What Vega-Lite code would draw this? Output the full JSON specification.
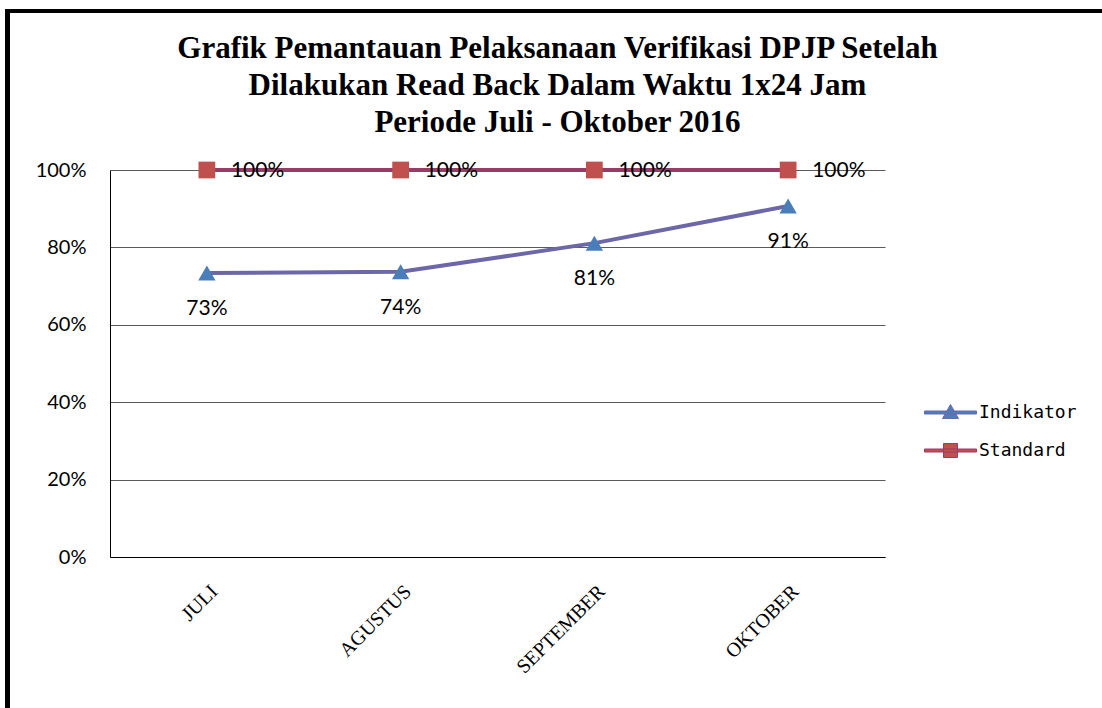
{
  "$schema": "https://vega.github.io/schema/vega-lite/v6.json",
  "width": 775,
  "height": 387,
  "autosize": "none",
  "padding": {"left": 110, "top": 170, "right": 217, "bottom": 151},
  "background": "white",
  "config": {"view": {"stroke": null}, "font": "Lato"},
  "title": {
    "text": ["Grafik Pemantauan Pelaksanaan Verifikasi DPJP Setelah", "Dilakukan Read Back Dalam Waktu 1x24 Jam", "Periode Juli - Oktober 2016"],
    "anchor": "middle",
    "frame": "group",
    "dx": 60,
    "offset": -130,
    "font": "Liberation Serif",
    "fontWeight": "bold",
    "fontSize": 31,
    "lineHeight": 37,
    "color": "black"
  },
  "data": {
    "values": [
      {"bulan": "JULI", "series": "Indikator", "nilai": 0.734},
      {"bulan": "AGUSTUS", "series": "Indikator", "nilai": 0.737},
      {"bulan": "SEPTEMBER", "series": "Indikator", "nilai": 0.811},
      {"bulan": "OKTOBER", "series": "Indikator", "nilai": 0.907},
      {"bulan": "JULI", "series": "Standard", "nilai": 1.0},
      {"bulan": "AGUSTUS", "series": "Standard", "nilai": 1.0},
      {"bulan": "SEPTEMBER", "series": "Standard", "nilai": 1.0},
      {"bulan": "OKTOBER", "series": "Standard", "nilai": 1.0}
    ]
  },
  "resolve": {"scale": {"x": "independent"}},
  "layer": [
    {
      "encoding": {
        "x": {
          "field": "bulan", "type": "nominal",
          "sort": ["JULI", "AGUSTUS", "SEPTEMBER", "OKTOBER"],
          "scale": {"type": "point", "padding": 0.5},
          "axis": {
            "title": null, "labelAngle": -45, "labelFont": "Liberation Serif", "labelFontSize": 20,
            "labelColor": "black", "ticks": false, "labelPadding": 24, "domainColor": "black", "domainWidth": 1, "grid": false
          }
        },
        "y": {
          "field": "nilai", "type": "quantitative",
          "scale": {"domain": [0, 1]},
          "axis": {
            "title": null, "format": ".0%", "values": [0, 0.2, 0.4, 0.6, 0.8, 1.0],
            "labelFont": "Lato", "labelFontSize": 20, "labelColor": "black", "labelPadding": 24,
            "ticks": false, "domainColor": "black", "domainWidth": 1,
            "grid": true, "gridColor": "#5a5a5a", "gridWidth": 1
          }
        }
      },
      "layer": [
        {
          "mark": {"type": "line", "strokeWidth": 4},
          "encoding": {
            "color": {
              "field": "series", "type": "nominal",
              "scale": {"domain": ["Indikator", "Standard"], "range": ["#6C67A8", "#9A3B66"]},
              "legend": {
                "title": null, "orient": "none", "legendX": 830, "legendY": 232, "padding": 0,
                "symbolSize": 400, "rowPadding": 18, "labelOffset": 18,
                "labelFont": "DejaVu Sans Mono", "labelFontSize": 18, "labelColor": "black",
                "encode": {
                  "symbols": {
                    "update": {
                      "shape": {"signal": "datum.value === 'Indikator' ? 'M -2.6 -0.15 L 2.6 -0.15 L 2.6 0.15 L -2.6 0.15 Z M 0 -0.8 L 0.8 0.6 L -0.8 0.6 Z' : 'M -2.6 -0.15 L 2.6 -0.15 L 2.6 0.15 L -2.6 0.15 Z M -0.7 -0.7 L 0.7 -0.7 L 0.7 0.7 L -0.7 0.7 Z'"},
                      "fill": {"signal": "datum.value === 'Indikator' ? '#4A7EBB' : '#C0504D'"},
                      "stroke": {"signal": "datum.value === 'Indikator' ? '#6C67A8' : '#9A3B66'"},
                      "strokeWidth": {"value": 1},
                      "opacity": {"value": 1},
                      "fillOpacity": {"value": 1}
                    }
                  }
                }
              }
            }
          }
        },
        {
          "transform": [{"filter": "datum.series === 'Indikator'"}],
          "mark": {"type": "point", "shape": "triangle-up", "filled": true, "size": 300, "opacity": 1, "color": "#4A7EBB"}
        },
        {
          "transform": [{"filter": "datum.series === 'Standard'"}],
          "mark": {"type": "point", "shape": "square", "filled": true, "size": 280, "opacity": 1, "color": "#C0504D"}
        },
        {
          "transform": [{"filter": "datum.series === 'Indikator'"}],
          "mark": {"type": "text", "dy": 36, "font": "Lato", "fontSize": 21, "color": "black"},
          "encoding": {"text": {"field": "nilai", "type": "quantitative", "format": ".0%"}}
        },
        {
          "transform": [{"filter": "datum.series === 'Standard'"}],
          "mark": {"type": "text", "align": "left", "dx": 24, "dy": 1, "font": "Lato", "fontSize": 21, "color": "black"},
          "encoding": {"text": {"field": "nilai", "type": "quantitative", "format": ".0%"}}
        }
      ]
    },
    {
      "mark": {"type": "rule", "color": "black", "strokeWidth": 4},
      "encoding": {
        "x": {"datum": -0.1323, "type": "quantitative", "scale": {"domain": [0, 1]}, "axis": null},
        "y": {"datum": 1.4116, "type": "quantitative"},
        "y2": {"datum": -0.4}
      }
    },
    {
      "mark": {"type": "rule", "color": "black", "strokeWidth": 3.5},
      "encoding": {
        "x": {"datum": -0.135, "type": "quantitative", "scale": {"domain": [0, 1]}, "axis": null},
        "x2": {"datum": 1.3},
        "y": {"datum": 1.4116, "type": "quantitative"}
      }
    }
  ]
}
